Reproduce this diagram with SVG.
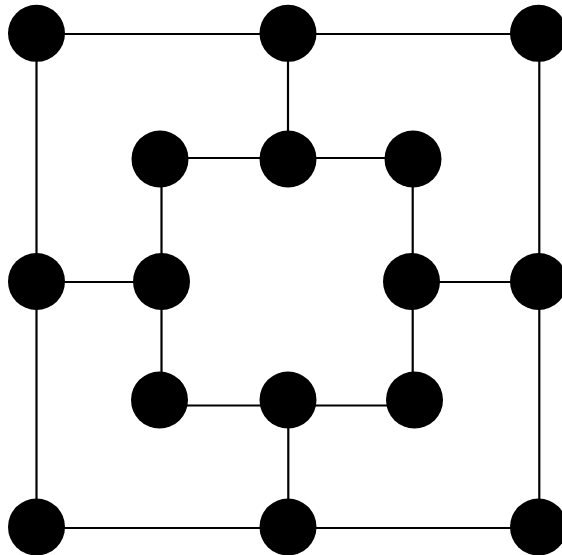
<svg xmlns="http://www.w3.org/2000/svg" width="562" height="555" viewBox="0 0 562 555">
<style>
.edge{stroke:#000;stroke-width:2.2;fill:none}
.pt{fill:#000}
</style>
<rect width="562" height="555" fill="#fff"/>
<g id="connectors">
<line class="edge" x1="36.5" y1="34" x2="539" y2="34"/>
<line class="edge" x1="36.5" y1="33" x2="36.5" y2="527"/>
<line class="edge" x1="539.3" y1="33" x2="539.3" y2="527"/>
<line class="edge" x1="36.5" y1="528" x2="539" y2="528"/>
<line class="edge" x1="160" y1="158" x2="413" y2="158"/>
<line class="edge" x1="161.5" y1="158" x2="161.5" y2="405"/>
<line class="edge" x1="412.7" y1="158" x2="412.7" y2="405"/>
<line class="edge" x1="160" y1="405.5" x2="413" y2="405.5"/>
<line class="edge" x1="288" y1="33" x2="288" y2="159"/>
<line class="edge" x1="288.3" y1="400" x2="288.3" y2="527"/>
<line class="edge" x1="36.5" y1="282" x2="161" y2="282"/>
<line class="edge" x1="412" y1="282" x2="538" y2="282"/>
</g>
<g id="n1"><circle class="pt" cx="36.5" cy="33.3" r="28.5"/></g>
<g id="n2"><circle class="pt" cx="288" cy="33.3" r="28.5"/></g>
<g id="n3"><circle class="pt" cx="538.5" cy="33.3" r="28.5"/></g>
<g id="n4"><circle class="pt" cx="36.5" cy="281.5" r="28.5"/></g>
<g id="n5"><circle class="pt" cx="538.5" cy="281.5" r="28.5"/></g>
<g id="n6"><circle class="pt" cx="36.5" cy="527" r="28.5"/></g>
<g id="n7"><circle class="pt" cx="288" cy="527" r="28.5"/></g>
<g id="n8"><circle class="pt" cx="538.5" cy="527" r="28.5"/></g>
<g id="n9"><circle class="pt" cx="160" cy="159" r="28.5"/></g>
<g id="n10"><circle class="pt" cx="288" cy="159" r="28.5"/></g>
<g id="n11"><circle class="pt" cx="413" cy="159" r="28.5"/></g>
<g id="n12"><circle class="pt" cx="161.5" cy="281.5" r="28.5"/></g>
<g id="n13"><circle class="pt" cx="411.5" cy="281.5" r="28.5"/></g>
<g id="n14"><circle class="pt" cx="159.5" cy="400" r="28.5"/></g>
<g id="n15"><circle class="pt" cx="288" cy="400" r="28.5"/></g>
<g id="n16"><circle class="pt" cx="414.5" cy="400" r="28.5"/></g>
</svg>
